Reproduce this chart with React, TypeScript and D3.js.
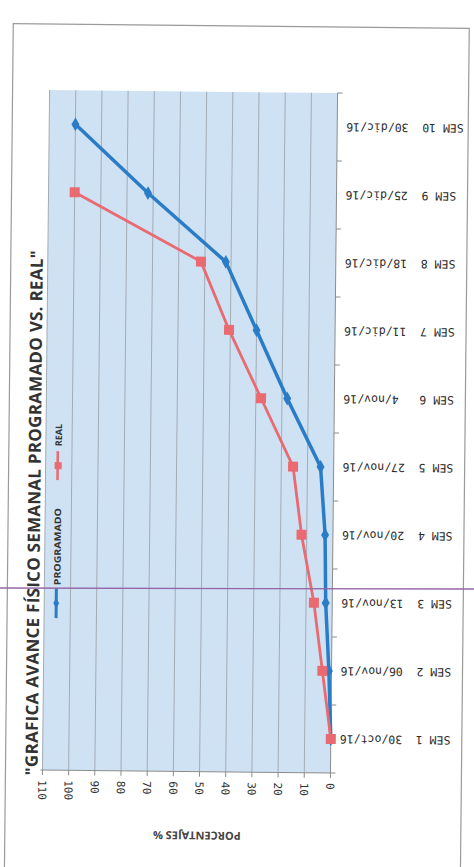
import * as d3 from 'd3';

// weekly progress (percent)
const categories = ['SEM 1', 'SEM 2', 'SEM 3', 'SEM 4', 'SEM 5', 'SEM 6', 'SEM 7', 'SEM 8', 'SEM 9', 'SEM 10'];
const dates = ['30/oct/16', '06/nov/16', '13/nov/16', '20/nov/16', '27/nov/16', '4/nov/16', '11/dic/16', '18/dic/16', '25/dic/16', '30/dic/16'];
const programado = [0, 1, 2.5, 3, 5, 18, 30, 42, 72, 100];
const real = [0, 3.5, 7, 12, 15.5, 28, 40.5, 51.5, 100];
const valueTicks = [0, 10, 20, 30, 40, 50, 60, 70, 80, 90, 100, 110];

const W = 474;
const H = 867;
const plot = { left: 46, right: 334, top: 92, bottom: 772 };

const BLUE = '#2b7cc7';
const RED = '#e96a70';
const GRID = '#a3abb4';

const App = () => {
  const x = d3.scaleLinear().domain([0, 110]).range([plot.right, plot.left]);
  const y = d3.scaleBand<string>().domain(categories).range([plot.bottom, plot.top]);
  const bw = y.bandwidth();
  const cy = (i: number) => (y(categories[i]) as number) + bw / 2;

  const line = d3
    .line<number>()
    .x((d) => x(d))
    .y((_d, i) => cy(i));

  const diamond = d3.symbol().type(d3.symbolDiamond).size(55)() as string;

  // band boundaries on the category axis
  const bandEdges = categories.map((c) => y(c) as number).concat([plot.bottom]);

  return (
    <svg
      width={W}
      height={H}
      style={{ position: 'absolute', left: 0, top: 0, background: '#fff' }}
    >
      <g transform={`rotate(0.6 ${W / 2} ${H / 2})`}>
        {/* outer frame */}
        <rect x={9} y={26} width={456} height={860} fill='none' stroke='#9a9a9a' strokeWidth={1.2} />

        {/* plot area */}
        <rect
          x={plot.left}
          y={plot.top}
          width={plot.right - plot.left}
          height={plot.bottom - plot.top}
          fill='#cfe2f4'
        />
        {valueTicks
          .filter((t) => t > 0)
          .map((t) => (
            <line key={t} x1={x(t)} x2={x(t)} y1={plot.top} y2={plot.bottom} stroke={GRID} strokeWidth={1} />
          ))}

        {/* value axis (bottom) */}
        <line x1={plot.left - 2} x2={plot.right} y1={plot.bottom} y2={plot.bottom} stroke='#8c8c8c' strokeWidth={1} />
        {valueTicks.map((t) => (
          <g key={t}>
            <line x1={x(t)} x2={x(t)} y1={plot.bottom} y2={plot.bottom + 5} stroke='#8c8c8c' />
            <text
              transform={`translate(${x(t) - 4},${plot.bottom + 10}) rotate(90)`}
              fontFamily="'DejaVu Sans Mono', monospace"
              fontSize={11}
              fill='#333'
            >
              {t}
            </text>
          </g>
        ))}
        <text
          transform={`translate(201,832) rotate(180)`}
          textAnchor='middle'
          fontFamily="'Open Sans', sans-serif"
          fontWeight='bold'
          fontSize={11}
          fill='#444'
        >
          PORCENTAJES %
        </text>

        {/* category axis (right) */}
        <line x1={plot.right} x2={plot.right} y1={plot.top} y2={plot.bottom} stroke='#8c8c8c' strokeWidth={1} />
        {bandEdges.map((e, i) => (
          <line key={i} x1={plot.right} x2={plot.right + 5} y1={e} y2={e} stroke='#8c8c8c' />
        ))}
        {categories.map((c, i) => (
          <g key={c} fontFamily="'DejaVu Sans Mono', monospace" fontSize={11.5} fill='#2b2b2b'>
            <text transform={`translate(343,${cy(i) - 4}) rotate(180)`} textAnchor='end'>
              {dates[i]}
            </text>
            <text transform={`translate(419,${cy(i) - 4}) rotate(180)`} textAnchor='end'>
              {c}
            </text>
          </g>
        ))}

        {/* series */}
        <path d={line(programado) as string} fill='none' stroke={BLUE} strokeWidth={3.5} strokeLinejoin='round' />
        {programado.map((v, i) => (
          <path key={i} d={diamond} transform={`translate(${x(v)},${cy(i)})`} fill={BLUE} />
        ))}
        <path d={line(real) as string} fill='none' stroke={RED} strokeWidth={2.8} strokeLinejoin='round' />
        {real.map((v, i) => (
          <rect key={i} x={x(v) - 5} y={cy(i) - 5} width={10} height={10} fill={RED} />
        ))}

        {/* title */}
        <text
          transform={`translate(41,515) rotate(-90)`}
          textAnchor='middle'
          fontFamily="'Open Sans', sans-serif"
          fontWeight='bold'
          fontSize={17}
          fill='#333'
          textLength={525}
          lengthAdjust='spacing'
        >
          "GRAFICA AVANCE FÍSICO SEMANAL PROGRAMADO VS. REAL"
        </text>

        {/* legend */}
        <line x1={58} x2={58} y1={590} y2={620} stroke={BLUE} strokeWidth={3} />
        <path d={d3.symbol().type(d3.symbolDiamond).size(30)() as string} transform='translate(58,605)' fill={BLUE} />
        <text
          transform='translate(62,587) rotate(-90)'
          fontFamily="'Open Sans', sans-serif"
          fontWeight='bold'
          fontSize={9}
          fill='#333'
          textLength={77}
          lengthAdjust='spacingAndGlyphs'
        >
          PROGRAMADO
        </text>
        <line x1={58} x2={58} y1={453} y2={482} stroke={RED} strokeWidth={2.5} />
        <rect x={55} y={464} width={7} height={7} fill={RED} />
        <text
          transform='translate(62,448) rotate(-90)'
          fontFamily="'Open Sans', sans-serif"
          fontWeight='bold'
          fontSize={9}
          fill='#333'
        >
          REAL
        </text>
      </g>

      {/* purple rule across the sheet */}
      <line x1={0} x2={W} y1={588} y2={589} stroke='#9466a8' strokeWidth={1.3} />
    </svg>
  );
};

export default App;
